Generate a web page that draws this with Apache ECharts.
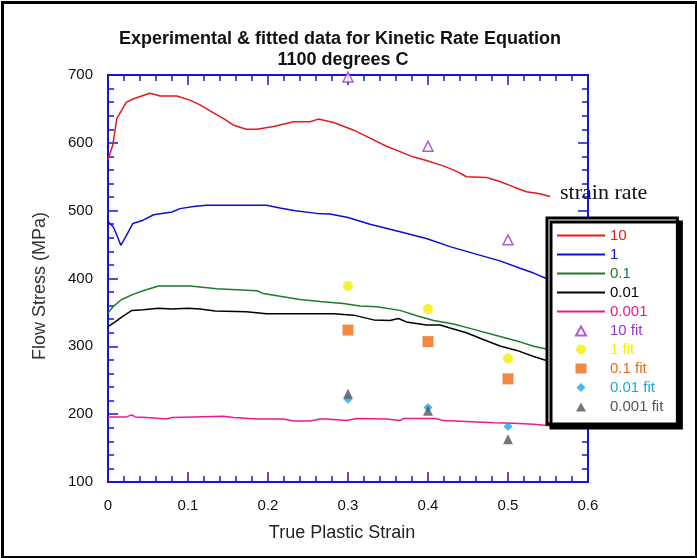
<!DOCTYPE html>
<html>
<head>
<meta charset="utf-8">
<script src="https://cdn.jsdelivr.net/npm/echarts@6/dist/echarts.min.js"></script>
<style>
  html, body { margin: 0; padding: 0; background: #fff; }
  #chart { width: 697px; height: 558px; }
</style>
</head>
<body>
<div id="chart"></div>
<script>
// Measured flow stress (MPa) against true plastic strain, one curve per strain rate
const rate10 = [[0, 575], [0.006, 597], [0.011, 636], [0.017, 648], [0.023, 660], [0.032, 665], [0.042, 669], [0.0525, 673], [0.065, 669], [0.086, 669], [0.1025, 663], [0.115, 656], [0.1275, 647], [0.144, 636], [0.157, 626], [0.173, 620], [0.186, 620], [0.207, 624], [0.232, 631], [0.2525, 631], [0.263, 635], [0.282, 630], [0.2975, 623], [0.3067, 619], [0.3275, 607], [0.348, 595], [0.365, 587], [0.382, 579], [0.398, 574], [0.419, 566], [0.436, 558], [0.448, 550], [0.473, 549], [0.49, 543], [0.507, 535], [0.523, 528], [0.54, 525], [0.5525, 521]];
const rate1 = [[0, 484], [0.0067, 476], [0.011, 464], [0.016, 449], [0.021, 459], [0.031, 481], [0.044, 486], [0.057, 494], [0.08, 498], [0.09, 503], [0.107, 506], [0.123, 508], [0.165, 508], [0.198, 508], [0.215, 504], [0.234, 500], [0.261, 496], [0.2775, 495], [0.3, 490], [0.3275, 480], [0.365, 469], [0.398, 459], [0.4275, 447], [0.4567, 437], [0.49, 426], [0.515, 415], [0.532, 408], [0.548, 400], [0.555, 397]];
const rate01 = [[0, 349], [0.0067, 359], [0.017, 369], [0.032, 377], [0.044, 382], [0.063, 389], [0.1025, 389], [0.136, 385], [0.186, 382], [0.194, 378], [0.24, 369], [0.265, 366], [0.294, 363], [0.315, 359.5], [0.336, 358.5], [0.365, 353], [0.386, 345], [0.407, 338], [0.432, 333], [0.457, 325], [0.482, 317], [0.511, 308], [0.532, 300], [0.548, 296], [0.555, 294]];
const rate001 = [[0, 329], [0.009, 336], [0.017, 343], [0.03, 353], [0.044, 354], [0.063, 356], [0.08, 355], [0.1, 356], [0.115, 355], [0.134, 352], [0.173, 351], [0.175, 349], [0.198, 348], [0.282, 348], [0.307, 346], [0.332, 339], [0.3525, 338], [0.363, 341], [0.373, 336], [0.398, 331.5], [0.415, 331.5], [0.4275, 327], [0.448, 320], [0.469, 310], [0.49, 300.5], [0.511, 294], [0.532, 285], [0.548, 279], [0.555, 276]];
const rate0001 = [[0, 196], [0.023, 196], [0.0296, 199], [0.034, 196], [0.048, 195], [0.073, 193], [0.08, 195], [0.107, 196], [0.144, 197], [0.157, 195], [0.186, 193], [0.219, 193], [0.232, 190], [0.2525, 190], [0.265, 193], [0.273, 193], [0.298, 190.5], [0.311, 193.5], [0.348, 193], [0.365, 190.5], [0.369, 193.5], [0.41, 193.5], [0.419, 190.5], [0.482, 187.5], [0.507, 186.5], [0.532, 185], [0.5525, 183]];

// Kinetic rate equation predictions at three strains
const fitStrain = [0.3, 0.4, 0.5];
const fit10 = [697, 595, 457];
const fit1 = [389, 355, 282];
const fit01 = [324, 307, 252];
const fit001 = [222, 210, 182];
const fit0001 = [230, 205, 163];

const seriesNames = ['10', '1', '0.1', '0.01', '0.001', '10 fit', '1 fit', '0.1 fit', '0.01 fit', '0.001 fit'];

const C = {
  r10: '#e41a1c', r1: '#0d0dd6', r01: '#1f7a2c', r001: '#000000', r0001: '#ec1a8c',
  f10: '#9933cc', f1: '#f5ef00', f01: '#f06a14', f001: '#1aa6e6', f0001: '#555555'
};
const axisBlue = '#1414d8';

// Legend markers sit in the middle of a 48x10 key box; the leading moves fix the box extent
const BOX = 'M0,0M48,10';
const legendIcons = {
  triangle: 'path://' + BOX + 'M19,10L24,1L29,10Z',
  circle: 'path://' + BOX + 'M19,5A5,5,0,1,1,29,5A5,5,0,1,1,19,5Z',
  rect: 'path://' + BOX + 'M18.5,0H29.5V10H18.5Z',
  diamond: 'path://' + BOX + 'M24,0.5L28.5,5L24,9.5L19.5,5Z'
};
const fitSymbols = ['triangle', 'circle', 'rect', 'diamond', 'triangle'];

function pair(xs, ys) { return xs.map((x, i) => [x, ys[i]]); }

function curve(name, data, color) {
  return {
    name, type: 'line', data, showSymbol: false, symbol: 'none',
    lineStyle: { color, width: 1.5 }, itemStyle: { color },
    xAxisIndex: 0, yAxisIndex: 0, animation: false, z: 2
  };
}
function fit(name, ys, symbol, size, style) {
  return {
    name, type: 'scatter', data: pair(fitStrain, ys), symbol, symbolSize: size,
    itemStyle: style, clip: false, xAxisIndex: 0, yAxisIndex: 0, animation: false, z: 3
  };
}

const baseAxis = {
  axisLine: { show: true, onZero: false, lineStyle: { color: axisBlue, width: 2 } },
  axisTick: { show: true, inside: true, length: 10, lineStyle: { color: axisBlue, width: 1.5 } },
  minorTick: { show: true, splitNumber: 5, length: 6, lineStyle: { color: axisBlue, width: 1.5 } },
  splitLine: { show: false },
  minorSplitLine: { show: false }
};

const xCommon = Object.assign({ type: 'value', min: 0, max: 0.6, interval: 0.1 }, baseAxis);
const yCommon = Object.assign({ type: 'value', min: 100, max: 700, interval: 100 }, baseAxis);

const legendText = [C.r10, C.r1, C.r01, C.r001, C.r0001, C.f10, C.f1, C.f01, C.f001, C.f0001];

const chart = echarts.init(document.getElementById('chart'), null, { renderer: 'canvas' });
chart.setOption({
  backgroundColor: '#ffffff',
  animation: false,
  grid: { left: 108, right: 109, top: 75, bottom: 76 },
  xAxis: [
    Object.assign({}, xCommon, {
      position: 'bottom',
      axisLabel: { show: true, color: '#111', fontFamily: 'Liberation Sans, Arial', fontSize: 15, margin: 16 }
    }),
    Object.assign({}, xCommon, { position: 'top', axisLabel: { show: false } })
  ],
  yAxis: [
    Object.assign({}, yCommon, {
      position: 'left',
      axisLabel: { show: true, color: '#111', fontFamily: 'Liberation Sans, Arial', fontSize: 15, margin: 15 }
    }),
    Object.assign({}, yCommon, { position: 'right', axisLabel: { show: false } })
  ],
  legend: {
    orient: 'vertical', left: 547, top: 218,
    padding: [10, 14, 10, 9],
    itemWidth: 48, itemHeight: 10, itemGap: 4,
    symbolKeepAspect: true,
    backgroundColor: '#ffffff', borderColor: '#000', borderWidth: 3,
    shadowColor: '#000', shadowBlur: 0, shadowOffsetX: 4, shadowOffsetY: 4,
    textStyle: { fontFamily: 'Liberation Sans, Arial', fontSize: 15, lineHeight: 15, padding: [0, 0, 0, 0] },
    data: seriesNames.map((n, i) => {
      const item = { name: n, textStyle: { color: legendText[i] } };
      if (i < 5) {
        // line entries show only their stroke, without a marker
        item.itemStyle = { opacity: 0 };
      } else {
        item.icon = legendIcons[fitSymbols[i - 5]];
      }
      return item;
    }),
    selectedMode: false
  },
  graphic: [
    { type: 'rect', left: 0, top: 0, shape: { x: 1.5, y: 1.5, width: 694, height: 555 },
      style: { fill: 'none', stroke: '#000', lineWidth: 3 }, z: 100 },
    { type: 'text', x: 340, y: 39, style: { text: 'Experimental & fitted data for Kinetic Rate Equation', fill: '#111',
      font: 'bold 18px "Liberation Sans", Arial', textAlign: 'center', textVerticalAlign: 'middle' } },
    { type: 'text', x: 343, y: 60, style: { text: '1100 degrees C', fill: '#111',
      font: 'bold 18px "Liberation Sans", Arial', textAlign: 'center', textVerticalAlign: 'middle' } },
    { type: 'text', x: 342, y: 533, style: { text: 'True Plastic Strain', fill: '#222',
      font: '18px "Liberation Sans", Arial', textAlign: 'center', textVerticalAlign: 'middle' } },
    { type: 'text', x: 40, y: 286, rotation: Math.PI / 2, style: { text: 'Flow Stress (MPa)', fill: '#333',
      font: '18px "Liberation Sans", Arial', textAlign: 'center', textVerticalAlign: 'middle' } },
    { type: 'text', x: 560, y: 193, style: { text: 'strain rate', fill: '#111',
      font: '22px "Liberation Serif", "Times New Roman", serif', textAlign: 'left', textVerticalAlign: 'middle' } }
  ],
  series: [
    curve('10', rate10, C.r10),
    curve('1', rate1, C.r1),
    curve('0.1', rate01, C.r01),
    curve('0.01', rate001, C.r001),
    curve('0.001', rate0001, C.r0001),
    fit('10 fit', fit10, 'triangle', 10, { color: '#fff', borderColor: C.f10, borderWidth: 1.5 }),
    fit('1 fit', fit1, 'circle', 10, { color: C.f1 }),
    fit('0.1 fit', fit01, 'rect', 11, { color: C.f01 }),
    fit('0.01 fit', fit001, 'diamond', 9, { color: C.f001 }),
    fit('0.001 fit', fit0001, 'triangle', 10, { color: C.f0001 })
  ]
});
</script>
</body>
</html>
